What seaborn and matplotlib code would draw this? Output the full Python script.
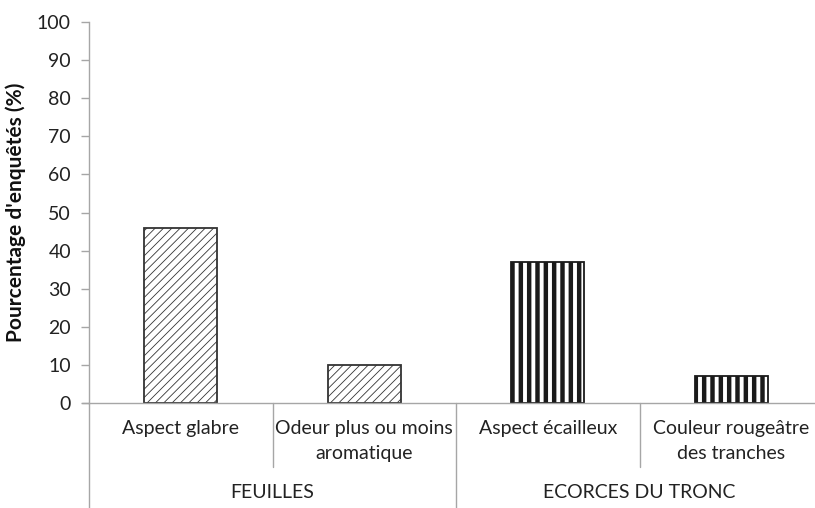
import matplotlib
matplotlib.use("Agg")
import matplotlib.pyplot as plt
import matplotlib.transforms as mtransforms
import seaborn as sns
import pandas as pd

categories = ["Aspect glabre", "Odeur plus ou moins\naromatique",
              "Aspect écailleux", "Couleur rougeâtre\ndes tranches"]
groups = ["FEUILLES", "FEUILLES", "ECORCES DU TRONC", "ECORCES DU TRONC"]
values = [46, 10, 37, 7]
group_names = ["FEUILLES", "ECORCES DU TRONC"]
y_ticks = [0, 10, 20, 30, 40, 50, 60, 70, 80, 90, 100]

sns.set_style("white")
plt.rcParams["font.family"] = ["Lato", "DejaVu Sans"]
plt.rcParams["hatch.linewidth"] = 0.6

df = pd.DataFrame({"cat": categories, "val": values, "grp": groups})

fig = plt.figure(figsize=(8.15, 5.08), dpi=100)
ax = fig.add_axes([89/815, 105/508, 734/815, 381/508])

sns.barplot(data=df, x="cat", y="val", ax=ax, width=0.4, color="white",
            edgecolor="#222222", linewidth=1.3, saturation=1)

for patch, grp in zip(ax.patches, groups):
    if grp == "FEUILLES":
        patch.set_hatch("////")
        patch.set_edgecolor("#333333")
        if hasattr(patch, "set_hatch_linewidth"):
            patch.set_hatch_linewidth(0.6)
    else:
        patch.set_hatch("||")
        patch.set_edgecolor("#1a1a1a")
        if hasattr(patch, "set_hatch_linewidth"):
            patch.set_hatch_linewidth(3.2)

ax.set_xlim(-0.5, 3.5)
ax.set_ylim(0, 100)
ax.set_yticks(y_ticks)
ax.set_yticklabels([str(t) for t in y_ticks], fontsize=14, color="#222222")
ax.set_xticks([])
ax.set_xlabel("")
ax.set_ylabel("Pourcentage d'enquêtés (%)", fontsize=15, fontweight="bold",
              color="#111111", labelpad=8)

for s in ["top", "right"]:
    ax.spines[s].set_visible(False)
for s in ["left", "bottom"]:
    ax.spines[s].set_color("#A6A6A6")
    ax.spines[s].set_linewidth(1.0)
ax.tick_params(axis="y", left=True, length=6, width=1, color="#A6A6A6", pad=7)

trans = mtransforms.blended_transform_factory(ax.transData, ax.transAxes)
h = 381.0
for xs, low in [(-0.5, -105/h), (0.5, -64/h), (1.5, -105/h), (2.5, -64/h), (3.5, -105/h)]:
    ax.plot([xs, xs], [0, low], transform=trans, color="#A6A6A6", lw=1.0, clip_on=False)
ax.plot([-0.5 - 7/184, -0.5], [0, 0], transform=trans, color="#A6A6A6", lw=1.0, clip_on=False)

for i, c in enumerate(categories):
    ax.text(i, -17/h, c, transform=trans, ha="center", va="top", fontsize=14,
            color="#222222", linespacing=1.55)
for j, g in enumerate(group_names):
    ax.text(2*j + 0.5, -81/h, g, transform=trans, ha="center", va="top",
            fontsize=14, color="#222222")

fig.savefig("out.png", dpi=100)
